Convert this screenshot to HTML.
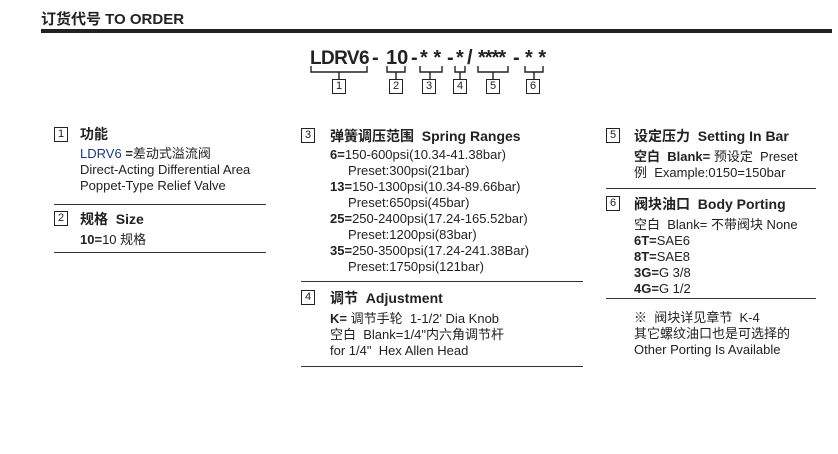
<!DOCTYPE html>
<html><head><meta charset="utf-8"><style>
body{margin:0;width:838px;height:454px;background:#fff;position:relative;overflow:hidden;font-family:"Liberation Sans","Noto Sans CJK SC",sans-serif;color:#222}
.a{position:absolute;white-space:nowrap}
.t{font-size:13px;line-height:16px}
.h{font-size:14px;font-weight:bold;line-height:16px}
.bx{position:absolute;border:1px solid #222;width:12px;height:13px;font-size:11px;line-height:13px;text-align:center}
.ln{position:absolute;height:1px;background:#333}
.c{position:absolute;top:46px;font-size:20px;font-weight:bold;white-space:nowrap;line-height:24px}
b{font-weight:bold}
</style></head><body>
<div class="a" style="left:41px;top:8px;font-size:15px;font-weight:bold">订货代号 TO ORDER</div>
<div style="position:absolute;left:41px;top:29px;width:791px;height:4px;background:#222"></div>

<div class="c" style="left:310px;font-size:19px;letter-spacing:-0.6px;top:47px">LDRV6</div>
<div class="c" style="left:372px">-</div>
<div class="c" style="left:386px">10</div>
<div class="c" style="left:411px">-</div>
<div class="c" style="left:420px">* *</div>
<div class="c" style="left:447px">-</div>
<div class="c" style="left:456px">*</div>
<div class="c" style="left:467px">/</div>
<div class="c" style="left:478px;letter-spacing:-1px">****</div>
<div class="c" style="left:513px">-</div>
<div class="c" style="left:525px">* *</div>
<svg style="position:absolute;left:0;top:0" width="838" height="100">
<g stroke="#222" stroke-width="1.4" fill="none">
<path d="M311 66V72H367V66M339 72V79"/>
<path d="M387 66V72H405V66M396 72V79"/>
<path d="M420 66V72H442V66M430 72V79"/>
<path d="M455 66V72H465V66M460 72V79"/>
<path d="M478 66V72H508V66M493 72V79"/>
<path d="M525 66V72H543V66M534 72V79"/>
</g></svg>
<div class="bx" style="left:332px;top:79px">1</div>
<div class="bx" style="left:389px;top:79px">2</div>
<div class="bx" style="left:422px;top:79px">3</div>
<div class="bx" style="left:453px;top:79px">4</div>
<div class="bx" style="left:486px;top:79px">5</div>
<div class="bx" style="left:526px;top:79px">6</div>

<!-- col1 -->
<div class="bx" style="left:54px;top:127px">1</div>
<div class="a h" style="left:80px;top:126px">功能</div>
<div class="a t" style="left:80px;top:146px"><span style="color:#1a3a7a">LDRV6</span> <b>=</b>差动式溢流阀<br>Direct-Acting Differential Area<br>Poppet-Type Relief Valve</div>
<div class="ln" style="left:54px;top:204px;width:212px"></div>
<div class="bx" style="left:54px;top:211px">2</div>
<div class="a h" style="left:80px;top:211px">规格 &nbsp;Size</div>
<div class="a t" style="left:80px;top:232px"><b>10=</b>10 规格</div>
<div class="ln" style="left:54px;top:252px;width:212px"></div>

<!-- col2 -->
<div class="bx" style="left:301px;top:128px">3</div>
<div class="a h" style="left:330px;top:128px">弹簧调压范围 &nbsp;Spring Ranges</div>
<div class="a t" style="left:330px;top:147px"><b>6=</b>150-600psi(10.34-41.38bar)<br>&nbsp;&nbsp;&nbsp;&nbsp;&nbsp;Preset:300psi(21bar)<br><b>13=</b>150-1300psi(10.34-89.66bar)<br>&nbsp;&nbsp;&nbsp;&nbsp;&nbsp;Preset:650psi(45bar)<br><b>25=</b>250-2400psi(17.24-165.52bar)<br>&nbsp;&nbsp;&nbsp;&nbsp;&nbsp;Preset:1200psi(83bar)<br><b>35=</b>250-3500psi(17.24-241.38Bar)<br>&nbsp;&nbsp;&nbsp;&nbsp;&nbsp;Preset:1750psi(121bar)</div>
<div class="ln" style="left:301px;top:281px;width:282px"></div>
<div class="bx" style="left:301px;top:290px">4</div>
<div class="a h" style="left:330px;top:290px">调节 &nbsp;Adjustment</div>
<div class="a t" style="left:330px;top:311px"><b>K=</b> 调节手轮 &nbsp;1-1/2' Dia Knob<br>空白 &nbsp;Blank=1/4"内六角调节杆<br>for 1/4" &nbsp;Hex Allen Head</div>
<div class="ln" style="left:301px;top:366px;width:282px"></div>

<!-- col3 -->
<div class="bx" style="left:606px;top:128px">5</div>
<div class="a h" style="left:634px;top:128px">设定压力 &nbsp;Setting In Bar</div>
<div class="a t" style="left:634px;top:149px"><b>空白 &nbsp;Blank=</b> 预设定 &nbsp;Preset<br>例 &nbsp;Example:0150=150bar</div>
<div class="ln" style="left:606px;top:188px;width:210px"></div>
<div class="bx" style="left:606px;top:196px">6</div>
<div class="a h" style="left:634px;top:196px">阀块油口 &nbsp;Body Porting</div>
<div class="a t" style="left:634px;top:217px">空白 &nbsp;Blank= 不带阀块 None<br><b>6T=</b>SAE6<br><b>8T=</b>SAE8<br><b>3G=</b>G 3/8<br><b>4G=</b>G 1/2</div>
<div class="ln" style="left:606px;top:298px;width:210px"></div>
<div class="a t" style="left:634px;top:310px">※ &nbsp;阀块详见章节 &nbsp;K-4<br>其它螺纹油口也是可选择的<br>Other Porting Is Available</div>
</body></html>
